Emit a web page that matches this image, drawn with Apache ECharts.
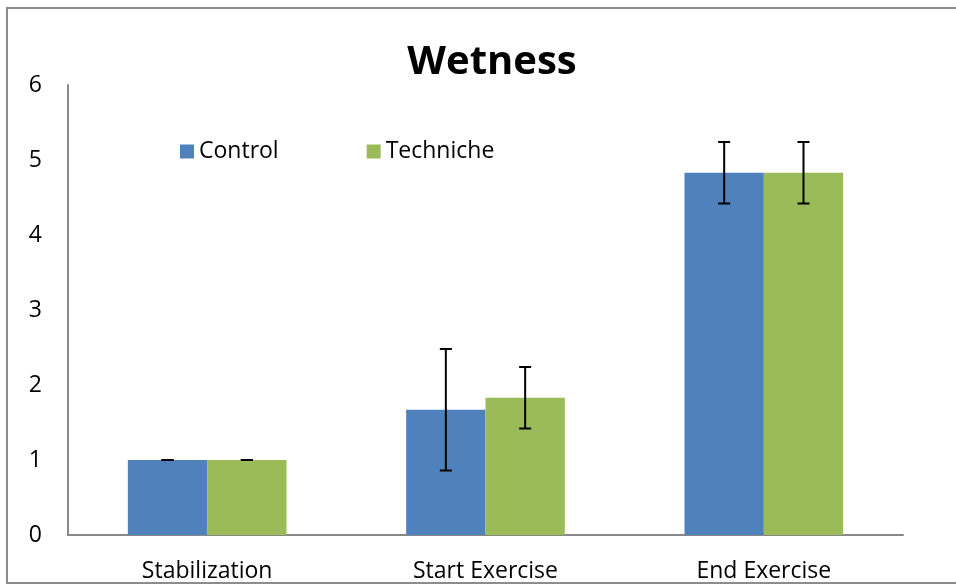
<!DOCTYPE html>
<html><head><meta charset="utf-8">
<script src="https://cdn.jsdelivr.net/npm/echarts@6/dist/echarts.min.js"></script>
<style>html,body{margin:0;padding:0;background:#fff}#c{width:956px;height:584px}</style>
</head><body><div id="c"></div>
<script>
const categories = ['Stabilization', 'Start Exercise', 'End Exercise'];
const controlValues = [1.0, 1.67, 4.83];
const controlErrors = [0.0, 0.81, 0.41];
const technicheValues = [1.0, 1.83, 4.83];
const technicheErrors = [0.0, 0.41, 0.41];
const yTicks = [0, 1, 2, 3, 4, 5, 6];

const FONT = 'Open Sans';
const chart = echarts.init(document.getElementById('c'), null, {renderer: 'canvas'});

function errorSeries(name, values, errors, sign) {
  return {
    type: 'custom',
    name: name + ' error',
    z: 10,
    silent: true,
    data: values.map((v, i) => [i, v - errors[i], v + errors[i]]),
    renderItem: function (params, api) {
      const i = api.value(0);
      const lo = api.coord([i, api.value(1)]);
      const hi = api.coord([i, api.value(2)]);
      const band = api.size([1, 0])[0];
      const bw = band * 0.57 / 2;
      const x = lo[0] + sign * bw / 2;
      const cap = 6;
      const style = {stroke: '#000', lineWidth: 2};
      return {
        type: 'group',
        children: [
          {type: 'line', shape: {x1: x, y1: lo[1], x2: x, y2: hi[1]}, style: style},
          {type: 'line', shape: {x1: x - cap, y1: hi[1], x2: x + cap, y2: hi[1]}, style: style},
          {type: 'line', shape: {x1: x - cap, y1: lo[1], x2: x + cap, y2: lo[1]}, style: style}
        ]
      };
    }
  };
}

chart.setOption({
  animation: false,
  backgroundColor: '#fff',
  title: {
    text: 'Wetness', left: 487, top: 38, textAlign: 'center',
    textStyle: {fontFamily: FONT, fontSize: 40, fontWeight: 'bold', color: '#000'}
  },
  legend: {
    data: ['Control', 'Techniche'],
    left: 175, top: 135,
    itemWidth: 14, itemHeight: 14, itemGap: 88,
    icon: 'rect',
    textStyle: {fontFamily: FONT, fontSize: 23, color: '#000', padding: [0, 0, 0, 0]}
  },
  grid: {left: 68, right: 53, top: 85, bottom: 49},
  xAxis: {
    type: 'category', data: categories,
    axisLine: {lineStyle: {color: '#888', width: 2}},
    axisTick: {show: false},
    axisLabel: {fontFamily: FONT, fontSize: 23, color: '#000', margin: 25}
  },
  yAxis: {
    type: 'value', min: 0, max: 6, interval: 1,
    axisLine: {show: true, lineStyle: {color: '#888', width: 2}},
    axisTick: {show: false},
    splitLine: {show: false},
    axisLabel: {fontFamily: FONT, fontSize: 23, color: '#000', margin: 26,
      formatter: v => yTicks.includes(v) ? String(v) : ''}
  },
  graphic: [{
    type: 'rect', shape: {x: 7, y: 8, width: 1000, height: 575},
    style: {fill: 'none', stroke: '#8c8c8c', lineWidth: 2}, z: -1, silent: true
  }],
  series: [
    {name: 'Control', type: 'bar', data: controlValues, barGap: '0%', barCategoryGap: '43%',
     itemStyle: {color: '#4f81bd'}},
    {name: 'Techniche', type: 'bar', data: technicheValues, barGap: '0%', barCategoryGap: '43%',
     itemStyle: {color: '#9bbb59'}},
    errorSeries('Control', controlValues, controlErrors, -1),
    errorSeries('Techniche', technicheValues, technicheErrors, 1)
  ]
});
</script></body></html>
